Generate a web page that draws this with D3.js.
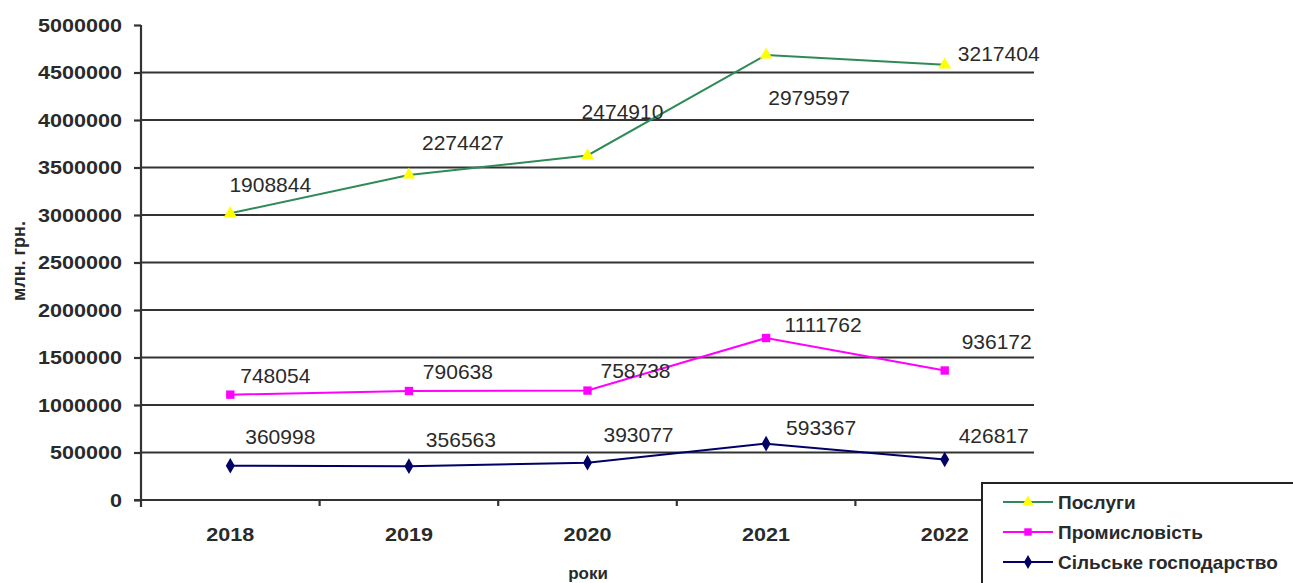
<!DOCTYPE html>
<html><head><meta charset="utf-8">
<script src="https://cdn.jsdelivr.net/npm/d3@7"></script>
<style>
html,body{margin:0;padding:0;background:#fff;overflow:hidden;}
svg{display:block;font-family:"Liberation Sans",Arial,sans-serif;}
</style></head>
<body><svg id="c" width="1293" height="583"></svg>
<script>
// ---- data ----
const years = ["2018","2019","2020","2021","2022"];
const posluhy = [1908844, 2274427, 2474910, 2979597, 3217404];
const promyslovist = [748054, 790638, 758738, 1111762, 936172];
const silske = [360998, 356563, 393077, 593367, 426817];
const yTicks = [0,500000,1000000,1500000,2000000,2500000,3000000,3500000,4000000,4500000,5000000];
const seriesNames = ["Послуги","Промисловість","Сільське господарство"];

// ---- label layout offsets (dx, dy from the point) ----
const labelOffsets = {
  "Послуги": [[40,-21],[54,-25],[35,-36],[43,50],[54,-4]],
  "Промисловість": [[45,-12],[49,-12],[48,-13],[57,-6],[52,-22]],
  "Сільське господарство": [[50,-22],[52,-19],[51,-21],[55,-9],[49,-16]]
};

const svg = d3.select("#c");
const x = d3.scaleBand().domain(years).range([141,1034]);
const y = d3.scaleLinear().domain([0,5000000]).range([500,25]);

// stacked values
const table = years.map((yr,i)=>({year:yr, "Сільське господарство":silske[i], "Промисловість":promyslovist[i], "Послуги":posluhy[i]}));
const stack = d3.stack().keys(["Сільське господарство","Промисловість","Послуги"])(table);

// gridlines
svg.append("g").selectAll("line").data(yTicks.filter(t=>t>0 && t<5000000)).join("line")
  .attr("x1",141).attr("x2",1034).attr("y1",d=>y(d)).attr("y2",d=>y(d))
  .attr("stroke","#333").attr("stroke-width",2.2);

// y axis
const ya = svg.append("g").attr("transform","translate(141,0)")
  .call(d3.axisLeft(y).tickValues(yTicks).tickSize(7).tickPadding(12).tickFormat(d3.format("d")));
ya.select(".domain").attr("stroke","#333").attr("stroke-width",2.2).attr("d","M0,25V507");
ya.selectAll(".tick line").attr("stroke","#333").attr("stroke-width",2.2);
ya.selectAll(".tick text").attr("font-size",19).attr("font-weight","bold").attr("fill","#2a2a2a")
  .attr("font-family","'Liberation Sans',Arial,sans-serif")
  .each(function(){ const s=d3.select(this).text(); d3.select(this).attr("textLength",s.length*12).attr("lengthAdjust","spacingAndGlyphs"); });

// x axis
const xa = svg.append("g").attr("transform","translate(0,500)");
xa.append("line").attr("x1",134).attr("x2",1034).attr("y1",0).attr("y2",0).attr("stroke","#333").attr("stroke-width",2.2);
const bounds = years.map(yr=>x(yr)).concat([x.range()[1]]);
xa.selectAll("line.t").data(bounds.slice(1)).join("line").attr("class","t")
  .attr("x1",d=>d).attr("x2",d=>d).attr("y1",0).attr("y2",6).attr("stroke","#333").attr("stroke-width",2.2);
xa.selectAll("text").data(years).join("text")
  .attr("x",d=>x(d)+x.bandwidth()/2).attr("y",41).attr("text-anchor","middle")
  .attr("font-size",19).attr("fill","#2a2a2a").attr("font-weight","bold")
  .attr("textLength",48).attr("lengthAdjust","spacingAndGlyphs").text(d=>d);

// axis titles
svg.append("text").attr("x",588).attr("y",579).attr("text-anchor","middle")
  .attr("font-size",17).attr("font-weight","bold").attr("fill","#2a2a2a").text("роки");
svg.append("text").attr("transform","translate(25,261) rotate(-90)").attr("text-anchor","middle")
  .attr("font-size",18).attr("font-weight","bold").attr("fill","#2a2a2a").text("млн. грн.");

const styles = {
  "Послуги": {color:"#2e8b57", marker:d3.symbolTriangle, mfill:"#ffff00", msize:70},
  "Промисловість": {color:"#ff00ff", marker:d3.symbolSquare, mfill:"#ff00ff", msize:70},
  "Сільське господарство": {color:"#000066", marker:d3.symbolDiamond, mfill:"#000066", msize:70}
};
const raw = {"Послуги":posluhy, "Промисловість":promyslovist, "Сільське господарство":silske};
const cx = yr => x(yr)+x.bandwidth()/2;

stack.forEach(layer=>{
  const name = layer.key, st = styles[name];
  const pts = layer.map((d,i)=>[cx(years[i]), y(d[1])]);
  svg.append("path").attr("d",d3.line()(pts)).attr("fill","none").attr("stroke",st.color).attr("stroke-width",2);
  svg.append("g").selectAll("path").data(pts).join("path")
    .attr("transform",p=>`translate(${p[0]},${p[1]})`)
    .attr("d",d3.symbol().type(st.marker).size(st.msize)).attr("fill",st.mfill);
  svg.append("g").selectAll("text").data(pts).join("text")
    .attr("x",(p,i)=>p[0]+labelOffsets[name][i][0]).attr("y",(p,i)=>p[1]+labelOffsets[name][i][1])
    .attr("text-anchor","middle").attr("font-size",21).attr("fill","#2a2a2a")
    .text((p,i)=>raw[name][i]);
});

// legend
const lg = svg.append("g");
lg.append("rect").attr("x",982).attr("y",483).attr("width",330).attr("height",120)
  .attr("fill","#fff").attr("stroke","#222").attr("stroke-width",2);
seriesNames.forEach((name,i)=>{
  const st = styles[name], ly = 502 + i*30;
  lg.append("line").attr("x1",1003).attr("x2",1053).attr("y1",ly).attr("y2",ly).attr("stroke",st.color).attr("stroke-width",2);
  lg.append("path").attr("transform",`translate(1028,${ly})`).attr("d",d3.symbol().type(st.marker).size(55)).attr("fill",st.mfill);
  lg.append("text").attr("x",1058).attr("y",ly+7).attr("font-size",19).attr("font-weight","bold").attr("fill","#2a2a2a").text(name);
});
</script></body></html>
